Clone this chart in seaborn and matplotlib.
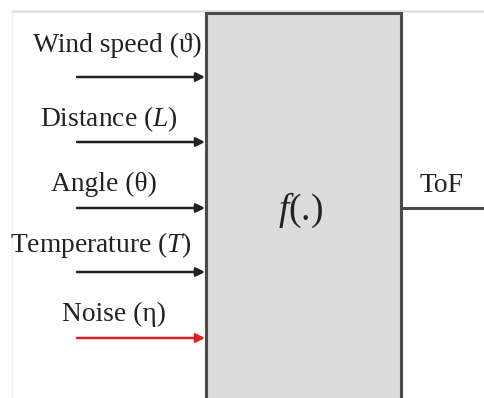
import matplotlib
matplotlib.use("Agg")
import matplotlib.pyplot as plt
import seaborn as sns
import pandas as pd
from matplotlib.patches import Rectangle

sns.set_style("white")
plt.rcParams['font.family'] = ['Liberation Serif', 'DejaVu Serif']
plt.rcParams['mathtext.fontset'] = 'custom'
plt.rcParams['mathtext.rm'] = 'Liberation Serif'
plt.rcParams['mathtext.it'] = 'Liberation Serif:italic'
plt.rcParams['mathtext.fallback'] = 'stix'

# Inputs of the block (top to bottom)
input_labels = ["Wind speed (\u03d1)", "Distance ($L$)", "Angle (\u03b8)",
                "Temperature ($T$)", "Noise (\u03b7)"]
input_colors = ["#222222", "#222222", "#222222", "#222222", "#e02020"]
block_label = "$f$(.)"
output_label = "ToF"

W, H = 484, 398
fig = plt.figure(figsize=(W / 100, H / 100), dpi=100)
ax = fig.add_axes([0, 0, 1, 1])
ax.set_xlim(0, W)
ax.set_ylim(H, 0)
ax.axis("off")

# faint frame lines
ax.plot([12, W], [11, 11], color="#e2e2e2", lw=2)
ax.plot([12, 12], [11, H], color="#f0f0f0", lw=1)

# block
box_x0, box_x1, box_y0 = 206, 401, 13
ax.add_patch(Rectangle((box_x0, box_y0), box_x1 - box_x0, H - box_y0 + 5,
                       facecolor="#dcdcdc", edgecolor="#4a4a4a", lw=2.2, zorder=2))
ax.text(301, 210, block_label, fontsize=27,
        ha="center", va="center", color="#222222", zorder=3)

# input arrows
arrow_y = [77, 142, 208, 272, 338]
label_y = [45, 119, 184, 245, 314]
label_x = [117, 109, 104, 101, 114]
df = pd.DataFrame({"label": input_labels, "y": arrow_y, "ly": label_y,
                   "lx": label_x, "color": input_colors})
for _, r in df.iterrows():
    ax.annotate("", xy=(box_x0 - 1, r.y), xytext=(77, r.y),
                arrowprops=dict(arrowstyle="-|>", color=r.color, lw=1.8,
                                mutation_scale=13, shrinkA=0, shrinkB=0),
                zorder=4)
    ax.text(r.lx, r.ly, r.label, fontsize=19.8, ha="center", va="center",
            color="#222222")

# output line
ax.plot([box_x1, W], [208, 208], color="#4a4a4a", lw=2.2)
ax.text(441, 186, output_label, fontsize=19.8, ha="center", va="center",
        color="#222222")

fig.savefig("out.png", dpi=100)
